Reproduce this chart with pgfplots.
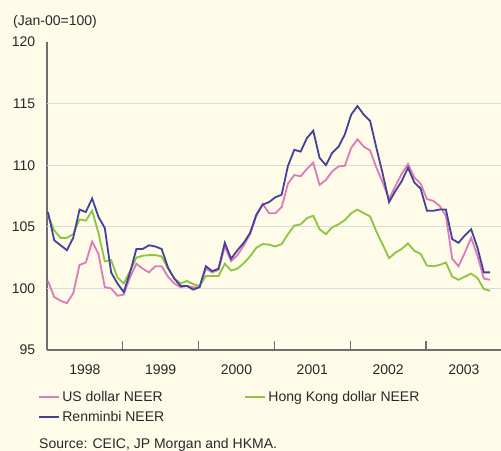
\documentclass[border=0pt]{standalone}
\usepackage{fontspec}
\setmainfont{Liberation Sans}
\usepackage{pgfplots}
\usepackage{pgfplotstable}
\pgfplotsset{compat=1.18}
\definecolor{bg}{RGB}{254,251,233}
\definecolor{uspink}{RGB}{222,122,182}
\definecolor{hkgreen}{RGB}{140,197,64}
\definecolor{rmbblue}{RGB}{66,66,155}
\definecolor{gridc}{RGB}{218,219,224}
\definecolor{axc}{RGB}{110,110,110}
\definecolor{txt}{RGB}{40,40,40}
\pgfplotstableread{
i us hk rmb
0 100.6 105.95 106.2
1 99.3 104.7 103.9
2 99.0 104.1 103.5
3 98.8 104.1 103.1
4 99.6 104.4 104.1
5 101.9 105.6 106.4
6 102.1 105.5 106.2
7 103.8 106.3 107.3
8 102.8 104.5 105.8
9 100.1 102.2 104.9
10 100.0 102.3 101.3
11 99.4 100.9 100.4
12 99.5 100.4 99.7
13 100.9 101.4 101.3
14 102.0 102.5 103.2
15 101.6 102.65 103.2
16 101.3 102.7 103.5
17 101.8 102.7 103.4
18 101.8 102.6 103.2
19 100.95 101.6 101.7
20 100.4 100.8 100.8
21 100.1 100.4 100.2
22 100.2 100.6 100.2
23 100.1 100.35 99.9
24 100.1 100.2 100.1
25 101.6 101.0 101.8
26 101.3 101.0 101.4
27 101.5 101.0 101.6
28 103.4 102.0 103.7
29 102.2 101.45 102.4
30 102.7 101.6 103.1
31 103.5 102.05 103.7
32 104.4 102.6 104.5
33 105.9 103.3 106.0
34 106.85 103.6 106.8
35 106.1 103.55 107.0
36 106.1 103.4 107.4
37 106.6 103.6 107.6
38 108.5 104.4 109.95
39 109.2 105.1 111.25
40 109.1 105.2 111.1
41 109.7 105.7 112.2
42 110.2 105.9 112.8
43 108.4 104.8 110.6
44 108.8 104.4 110.0
45 109.5 104.95 111.0
46 109.9 105.2 111.5
47 109.95 105.55 112.5
48 111.4 106.1 114.1
49 112.1 106.4 114.8
50 111.5 106.1 114.1
51 111.2 105.85 113.6
52 109.8 104.6 111.4
53 108.6 103.55 109.3
54 107.25 102.45 107.0
55 108.3 102.9 107.9
56 109.3 103.2 108.7
57 110.1 103.65 109.8
58 109.0 103.05 108.6
59 108.5 102.8 108.1
60 107.25 101.85 106.3
61 107.1 101.8 106.3
62 106.7 101.9 106.4
63 105.9 102.1 106.4
64 102.4 100.95 104.0
65 101.8 100.7 103.7
66 102.9 100.95 104.3
67 104.1 101.2 104.8
68 102.65 100.85 103.3
69 100.8 99.95 101.3
70 100.7 99.8 101.3
}\data
\begin{document}
\fontsize{14bp}{16bp}\selectfont
\begin{tikzpicture}[x=1bp,y=1bp]
\fill[bg] (0,0) rectangle (501,451);
\useasboundingbox (0,0) rectangle (501,451);
\node[anchor=west, text=txt, inner sep=0pt] at (13,429) {(Jan-00=100)};
\node[anchor=west, text=txt, inner sep=0pt] at (39,6) {Source: CEIC, JP Morgan and HKMA.};
\begin{axis}[
  at={(47bp,101bp)}, anchor=south west,
  scale only axis, width=454.8bp, height=308bp,
  xmin=1998, xmax=2004, ymin=95, ymax=120,
  axis x line*=bottom, axis y line*=left,
  axis line style={-, color=axc, line width=1.3bp},
  /pgf/number format/assume math mode=true,
  ticklabel style={font=\fontsize{14bp}{16bp}\selectfont, text=txt},
  xtick={1998,1999,...,2004}, xticklabels={},
  minor x tick num=3,
  tick align=inside,
  major tick length=9bp, minor tick length=4.5bp,
  x tick style={color=axc, line width=1.2bp},
  extra x ticks={1998.5,1999.5,2000.5,2001.5,2002.5,2003.5},
  extra x tick labels={1998,1999,2000,2001,2002,2003},
  extra x tick style={major tick length=0pt, grid=none, xticklabel style={yshift=-10bp}},
  ytick={95,100,...,120},
  y tick style={draw=none},
  yticklabel style={anchor=east, xshift=-7bp},
  extra y ticks={100,105,110,115},
  extra y tick labels={},
  extra y tick style={grid=major, major grid style={color=gridc, line width=1.3bp}},
  legend columns=2,
  legend cell align=left,
  legend style={at={(-0.0198,-0.126)}, anchor=north west, draw=none, fill=none,
    inner sep=0pt, font=\fontsize{14bp}{16bp}\selectfont, text=txt, row sep=4bp,
    /tikz/every even column/.append style={column sep=78bp}},
  legend image code/.code={\draw[#1, line width=2.2bp] (0bp,0bp) -- (20bp,0bp);},
]
\addplot[uspink, line width=1.8bp] table[x expr=1998+(\thisrow{i}+0.15)/12, y=us] {\data};
\addlegendentry{US dollar NEER}
\addplot[hkgreen, line width=1.8bp] table[x expr=1998+(\thisrow{i}+0.15)/12, y=hk] {\data};
\addlegendentry{Hong Kong dollar NEER}
\addplot[rmbblue, line width=1.8bp] table[x expr=1998+(\thisrow{i}+0.15)/12, y=rmb] {\data};
\addlegendentry{Renminbi NEER}
\end{axis}
\end{tikzpicture}
\end{document}
